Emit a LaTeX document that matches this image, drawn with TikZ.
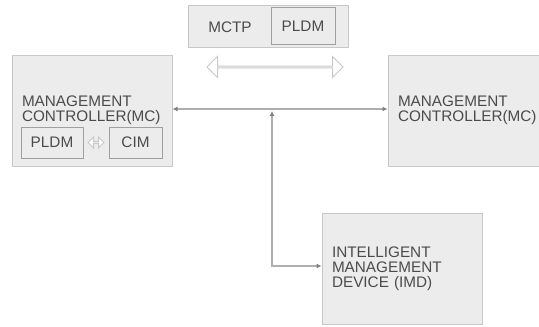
\documentclass[tikz,border=0pt]{standalone}
\usepackage{fontspec}
\setmainfont{Liberation Sans}
\usetikzlibrary{positioning, arrows.meta, shapes.arrows}
\definecolor{boxfill}{RGB}{236, 236, 236}
\definecolor{boxline}{RGB}{200, 200, 200}
\definecolor{innerline}{RGB}{160, 160, 160}
\definecolor{wireline}{RGB}{175, 175, 175}
\definecolor{labeltext}{RGB}{75, 75, 75}

\begin{document}
\begin{tikzpicture}[
    x=1pt, y=-1pt, % work in reference pixels, y grows downwards
    font=\fontsize{15.3}{15}\selectfont,
    text=labeltext,
    % big grey blocks
    block/.style={
        rectangle,
        draw=boxline,
        line width=1pt,
        fill=boxfill,
        minimum height=111pt,
        text width=140pt,
        inner xsep=10pt,
        align=left
    },
    % small boxes sitting inside a block
    subbox/.style={
        rectangle,
        draw=innerline,
        line width=1pt,
        fill=boxfill,
        inner sep=0pt,
        align=center
    },
    % hollow double arrows
    twoway/.style={
        double arrow,
        draw=boxline,
        line width=1pt,
        fill=white,
        inner sep=0pt
    },
    % connectors of the bus
    link/.style={
        <->,
        line width=1.2pt,
        draw=wireline,
        >={Latex[length=5pt, width=5pt, color=innerline!80!black]}
    }
]
\useasboundingbox (0,0) rectangle (539,327);

% Protocol stack on top
\node[subbox, draw=boxline, minimum width=160pt, minimum height=42pt] (proto) at (268,26) {};
\node[subbox, minimum width=64pt, minimum height=37pt, left=13pt of proto.east] (toppldm) {PLDM};
\node (mctp) at (230,27) {MCTP};
\node[twoway, minimum height=136pt, minimum width=21pt, double arrow head extend=5.5pt] (bigarrow) at (275,67) {};

% Management controllers
\node[block] (mcleft) at (92,110.5) {MANAGEMENT\\CONTROLLER(MC)};
\node[block] (mcright) at (468,110.5) {MANAGEMENT\\CONTROLLER(MC)};

% Inside the left controller
\node[subbox, minimum width=62pt, minimum height=31pt, above right=8pt and 9pt of mcleft.south west] (pldm) {PLDM};
\node[subbox, minimum width=53pt, minimum height=31pt, above left=8pt and 10pt of mcleft.south east] (cim) {CIM};
\node[twoway, minimum height=16pt, minimum width=11pt, double arrow head extend=3pt] (smallarrow) at (96,142.5) {};

% Intelligent management device
\node[block] (imd) at (402,268.5) {INTELLIGENT\\MANAGEMENT\\DEVICE (IMD)};

% Bus between the devices
\coordinate (busjoint) at (272,109);
\coordinate (imdin) at ([yshift=2.5pt]imd.west);
\draw[link] (mcleft.east |- busjoint) -- (mcright.west |- busjoint);
\draw[link] ([yshift=-2pt]busjoint) |- (imdin);

\end{tikzpicture}
\end{document}
